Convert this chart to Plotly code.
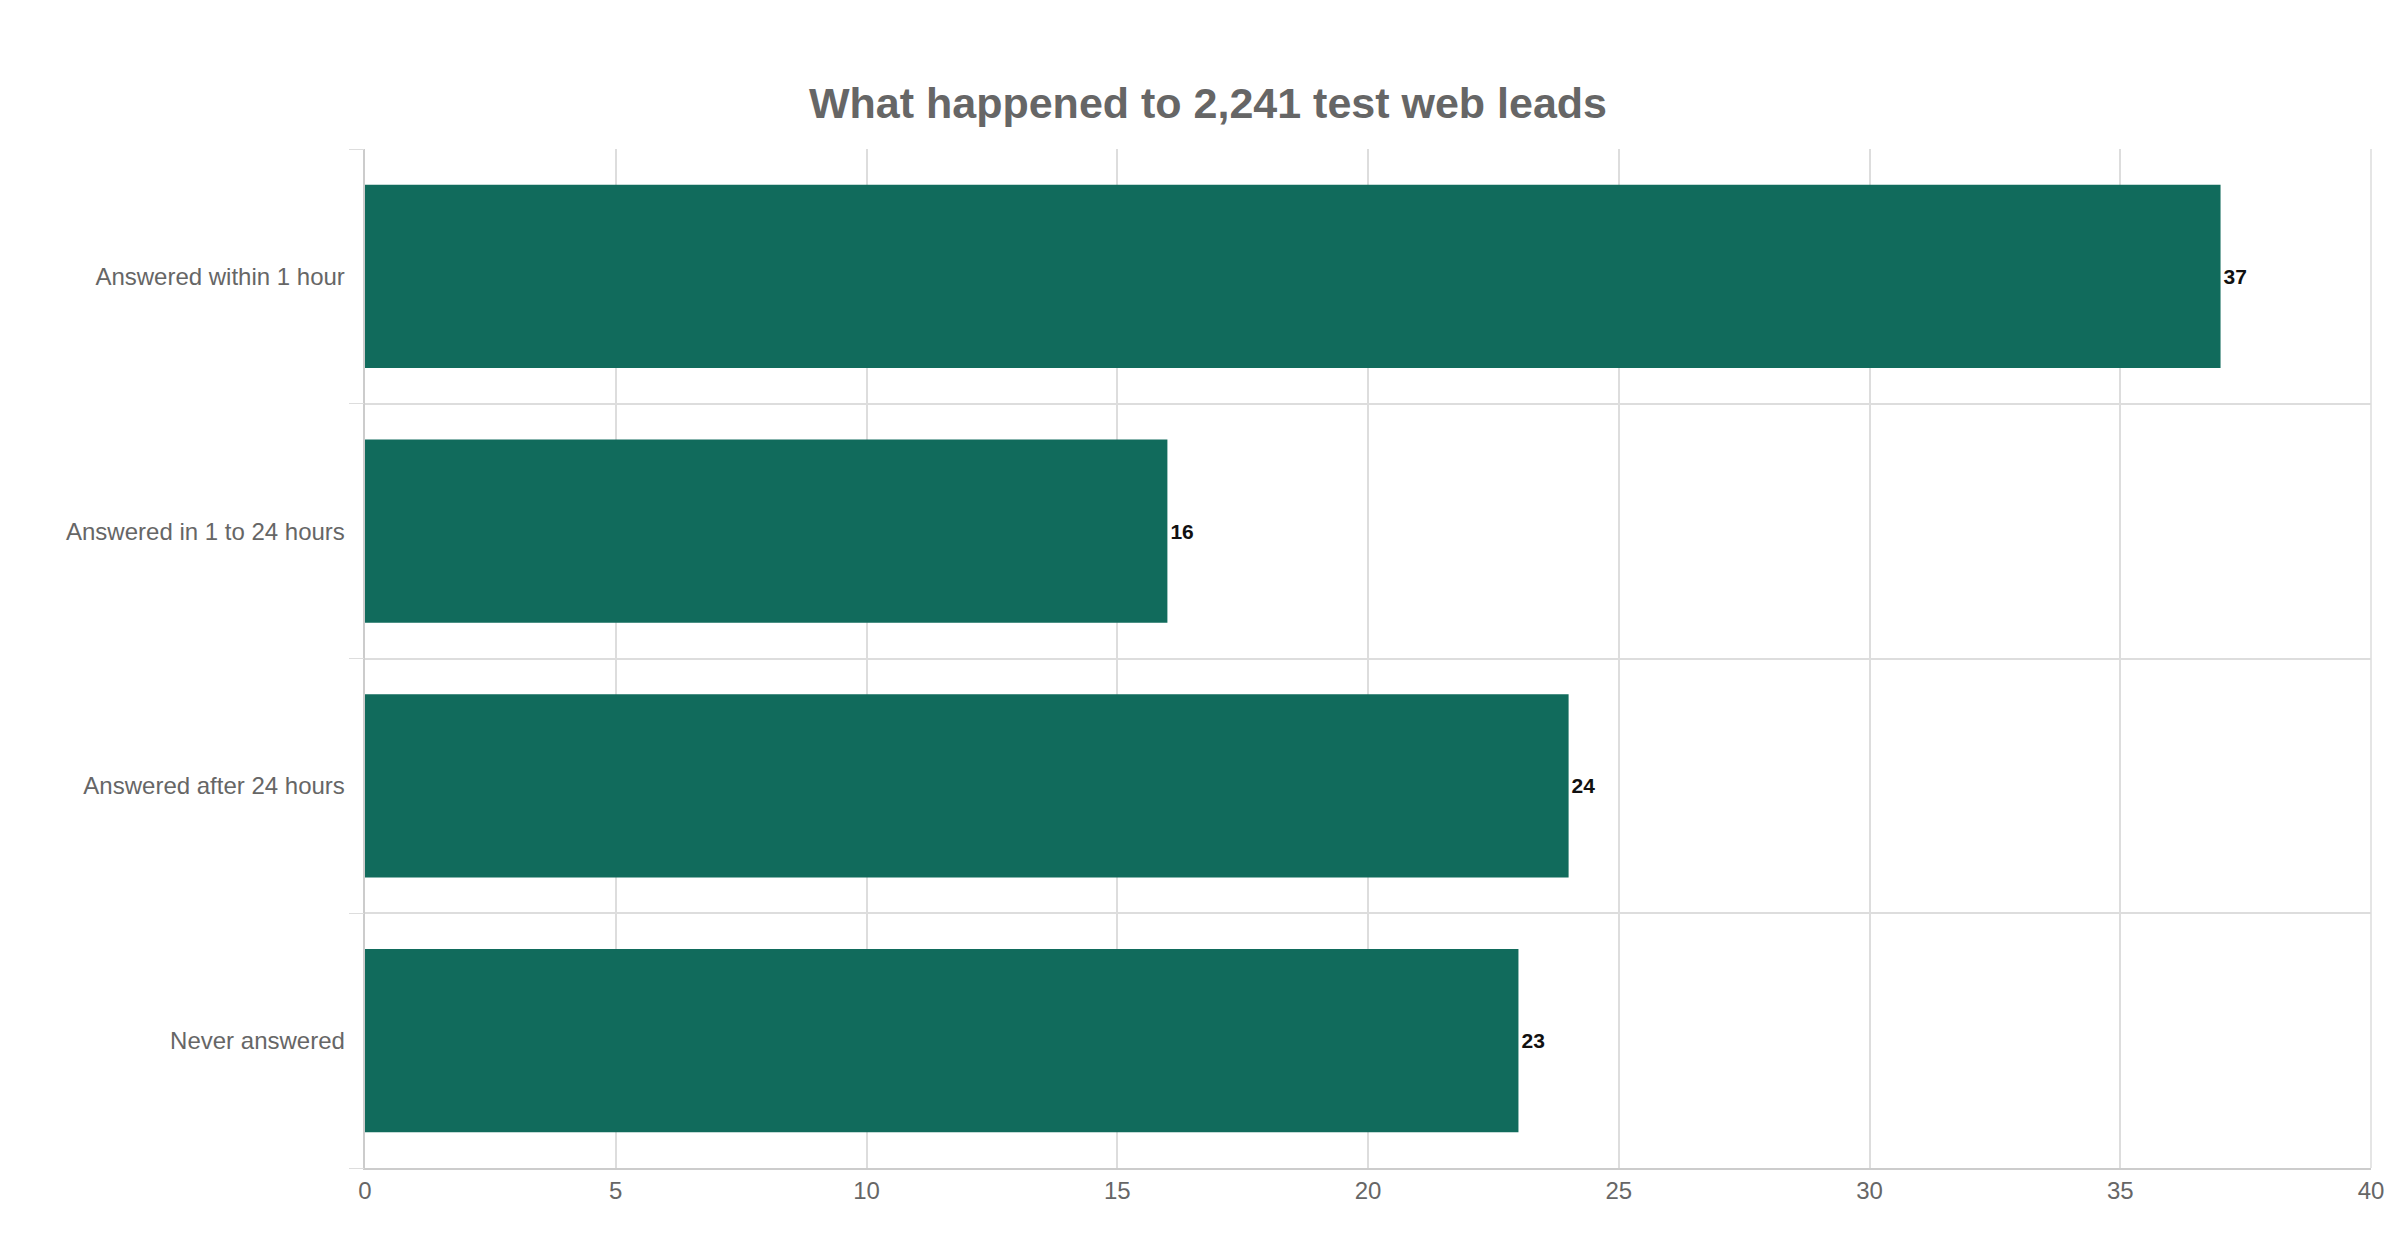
import plotly.graph_objects as go

categories = ["Answered within 1 hour", "Answered in 1 to 24 hours", "Answered after 24 hours", "Never answered"]
values = [37, 16, 24, 23]
x_ticks = [0, 5, 10, 15, 20, 25, 30, 35, 40]

font = "Liberation Sans, Arial, sans-serif"

fig = go.Figure()
fig.add_trace(go.Bar(
    y=categories, x=values, orientation="h",
    marker=dict(color="#116b5c", line=dict(width=0)),
    width=0.72,
    text=values, texttemplate="<b>%{text}</b>", textposition="outside",
    textfont=dict(size=21, color="#111111", family=font),
    cliponaxis=False, showlegend=False,
))
# invisible trace on overlay axis used for the category-boundary gridlines
fig.add_trace(go.Scatter(x=[0], y=[0], yaxis="y2", mode="markers",
                         marker=dict(opacity=0), showlegend=False, hoverinfo="skip"))

fig.update_layout(
    width=2400, height=1260,
    paper_bgcolor="white", plot_bgcolor="white",
    margin=dict(l=357, r=37, t=141, b=100),
    title=dict(text="<b>What happened to 2,241 test web leads</b>", x=0.5, xanchor="center",
               y=0.925, yanchor="middle",
               font=dict(size=43, color="#666666", family=font)),
    font=dict(family=font),
    xaxis=dict(range=[0, 40], tickvals=x_ticks, showgrid=True, gridcolor="#dddddd",
               gridwidth=1.5, zeroline=False, showline=True, linecolor="#cccccc", linewidth=2,
               tickfont=dict(size=24, color="#666666"), ticks="", mirror=False),
    yaxis=dict(autorange=False, range=[3.5, -0.5], showgrid=False, zeroline=False,
               showline=True, linecolor="#cccccc", linewidth=2, ticks="",
               tickfont=dict(size=24, color="#666666"), ticksuffix="  "),
    yaxis2=dict(overlaying="y", range=[3.5, -0.5], tickvals=[-0.5, 0.5, 1.5, 2.5, 3.5],
                showticklabels=False, showgrid=True, gridcolor="#dddddd", gridwidth=1.5,
                ticks="outside", ticklen=15, tickcolor="#dddddd", zeroline=False, side="left"),
    bargap=0.28,
)
fig.add_shape(type="line", xref="paper", yref="paper", x0=1, x1=1, y0=0, y1=1,
              line=dict(color="#dddddd", width=1.5))

fig.write_html("out.html")
